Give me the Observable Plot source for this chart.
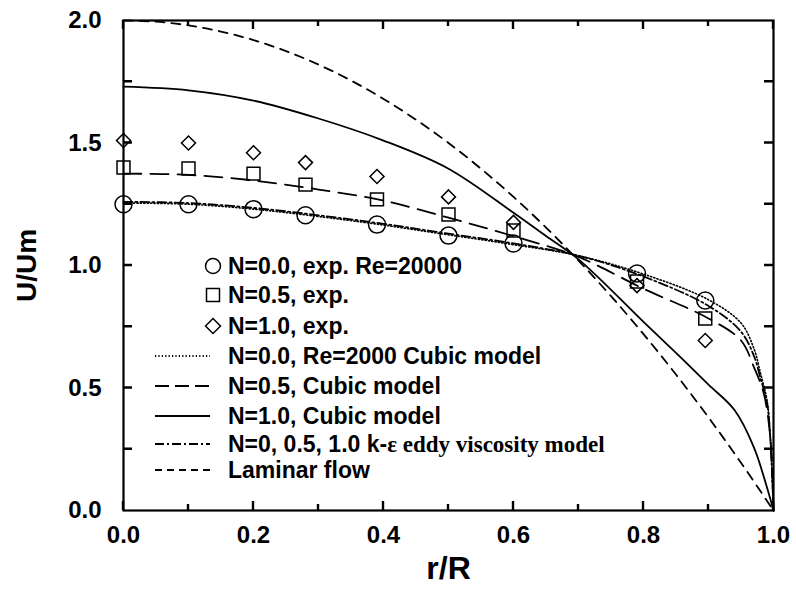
<!DOCTYPE html>
<html><head><meta charset="utf-8">
<script src="https://cdn.jsdelivr.net/npm/d3@7"></script>
<script src="https://cdn.jsdelivr.net/npm/@observablehq/plot@0.6"></script>
<style>
body{margin:0;background:#fff;}
#wrap{position:relative;width:796px;height:590px;background:#fff;}
#legend{position:absolute;left:0;top:0;width:0;height:0;overflow:visible;pointer-events:none;font-family:"Liberation Sans",Arial,sans-serif;font-size:23px;font-weight:bold;color:#000;}
.sw{position:absolute;left:150px;width:72px;height:28px;}
.lab{position:absolute;left:228px;height:28px;line-height:28px;white-space:nowrap;}
.serif{font-family:"Liberation Serif","Times New Roman",serif;font-size:23px;font-weight:bold;}
</style></head><body><div id="wrap"><div id="legend"></div></div>
<script>
// ---- experimental points ----
const rExp = [0, 0.1, 0.2, 0.28, 0.39, 0.5, 0.6, 0.79, 0.895];
const uExpN00 = [1.25, 1.25, 1.23, 1.205, 1.167, 1.122, 1.09, 0.967, 0.857];
const uExpN05 = [1.40, 1.396, 1.375, 1.33, 1.27, 1.208, 1.143, 0.935, 0.784];
const uExpN10 = [1.51, 1.50, 1.46, 1.42, 1.363, 1.28, 1.176, 0.918, 0.694];

// ---- model curves ----
const rLam = [0, 0.05, 0.1, 0.15, 0.2, 0.25, 0.3, 0.35, 0.4, 0.45, 0.5, 0.55, 0.6, 0.65, 0.7, 0.75, 0.8, 0.85, 0.9, 0.95, 1.0];
const uLam = [2.0, 1.995, 1.98, 1.955, 1.92, 1.875, 1.82, 1.755, 1.68, 1.595, 1.5, 1.395, 1.28, 1.155, 1.02, 0.875, 0.72, 0.555, 0.38, 0.195, 0];

const rN10 = [0, 0.1, 0.2, 0.3, 0.4, 0.5, 0.6, 0.65, 0.7, 0.8, 0.85, 0.9, 0.94, 0.97, 0.99, 1.0];
const uN10 = [1.73, 1.715, 1.673, 1.60, 1.51, 1.395, 1.215, 1.12, 1.025, 0.77, 0.643, 0.514, 0.41, 0.257, 0.094, 0];

const rN05 = [0, 0.1, 0.2, 0.3, 0.4, 0.5, 0.6, 0.7, 0.8, 0.9, 0.95, 0.97, 0.985, 0.995, 1.0];
const uN05 = [1.375, 1.37, 1.347, 1.31, 1.265, 1.195, 1.12, 1.035, 0.905, 0.784, 0.694, 0.584, 0.478, 0.3, 0];

const rWall = [0, 0.1, 0.2, 0.3, 0.4, 0.5, 0.6, 0.7, 0.8, 0.9, 0.95, 0.97, 0.98, 0.99, 0.995, 1.0];
const uN00 = [1.255, 1.25, 1.23, 1.2, 1.165, 1.125, 1.085, 1.04, 0.965, 0.86, 0.765, 0.66, 0.56, 0.45, 0.3, 0];
const uKE  = [1.26, 1.255, 1.235, 1.205, 1.17, 1.13, 1.09, 1.04, 0.955, 0.835, 0.73, 0.63, 0.54, 0.44, 0.3, 0];

// ---- ticks ----
const xTickLabels = [0, 0.2, 0.4, 0.6, 0.8, 1.0];
const xMinorTicks = [0.1, 0.3, 0.5, 0.7, 0.9];
const yTickLabels = [0, 0.5, 1.0, 1.5, 2.0];
const yAllTicks = [0.25, 0.5, 0.75, 1.0, 1.25, 1.5, 1.75];

// ---- legend ----
const legendLabels = [
  "N=0.0, exp. Re=20000",
  "N=0.5, exp.",
  "N=1.0, exp.",
  "N=0.0, Re=2000 Cubic model",
  "N=0.5, Cubic model",
  "N=1.0, Cubic model",
  "N=0, 0.5, 1.0 k-ε eddy viscosity model",
  "Laminar flow"
];

const zip = (xs, ys) => xs.map((x, i) => ({x, y: ys[i]}));

const W = 796, H = 590, mL = 123, mR = 23, mT = 20, mB = 80;
const major = 9, minor = 6;

const dashes = {
  dotted: "1.2,2.2",
  long: "18,9",
  solid: null,
  dashdot: "9,3,2,3",
  short: "9,7"
};

// custom mark: inward ticks on all four sides, placed through Plot's scales
function inwardTicks(index, scales, values, dims) {
  const {x, y} = scales;
  const L = dims.marginLeft, R = dims.width - dims.marginRight;
  const T = dims.marginTop, B = dims.height - dims.marginBottom;
  const p = d3.path();
  for (const v of xTickLabels) { const px = x(v); p.moveTo(px, B); p.lineTo(px, B - major); p.moveTo(px, T); p.lineTo(px, T + major); }
  for (const v of xMinorTicks) { const px = x(v); p.moveTo(px, B); p.lineTo(px, B - minor); p.moveTo(px, T); p.lineTo(px, T + minor); }
  for (const v of yAllTicks) { const py = y(v); p.moveTo(L, py); p.lineTo(L + major, py); p.moveTo(R, py); p.lineTo(R - major, py); }
  return d3.create("svg:path")
    .attr("d", p.toString())
    .attr("fill", "none").attr("stroke", "#000").attr("stroke-width", 2.4)
    .node();
}

const chart = Plot.plot({
  width: W, height: H,
  marginLeft: mL, marginRight: mR, marginTop: mT, marginBottom: mB,
  style: {fontFamily: "'Liberation Sans', Arial, sans-serif", fontSize: "24px", fontWeight: "bold", color: "#000", background: "#fff", overflow: "visible"},
  x: {domain: [0, 1], axis: null},
  y: {domain: [0, 2], axis: null},
  marks: [
    inwardTicks,
    // curves
    Plot.line(zip(rLam, uLam), {x: "x", y: "y", stroke: "#000", strokeWidth: 1.8, strokeDasharray: dashes.short, curve: "catmull-rom"}),
    Plot.line(zip(rN10, uN10), {x: "x", y: "y", stroke: "#000", strokeWidth: 1.8, curve: "catmull-rom"}),
    Plot.line(zip(rN05, uN05), {x: "x", y: "y", stroke: "#000", strokeWidth: 1.8, strokeDasharray: dashes.long, curve: "catmull-rom"}),
    Plot.line(zip(rWall, uKE), {x: "x", y: "y", stroke: "#000", strokeWidth: 1.8, strokeDasharray: dashes.dashdot, curve: "catmull-rom"}),
    Plot.line(zip(rWall, uN00), {x: "x", y: "y", stroke: "#000", strokeWidth: 1.6, strokeDasharray: dashes.dotted, curve: "catmull-rom"}),
    // experimental symbols
    Plot.dot(zip(rExp, uExpN00), {x: "x", y: "y", symbol: "circle", r: 8.5, stroke: "#000", strokeWidth: 1.5, fill: "none"}),
    Plot.dot(zip(rExp, uExpN05), {x: "x", y: "y", symbol: "square", r: 7.3, stroke: "#000", strokeWidth: 1.5, fill: "none"}),
    Plot.dot(zip(rExp, uExpN10), {x: "x", y: "y", symbol: "diamond2", r: 6.3, stroke: "#000", strokeWidth: 1.5, fill: "none"}),
    Plot.frame({stroke: "#000", strokeWidth: 2.2}),
    // tick labels
    Plot.axisX(xTickLabels, {anchor: "bottom", tickSize: 0, tickPadding: 15, label: null, tickFormat: d3.format(".1f"), fontSize: 24}),
    Plot.axisY(yTickLabels, {anchor: "left", tickSize: 0, tickPadding: 22, label: null, tickFormat: d3.format(".1f"), fontSize: 24}),
    // axis titles
    Plot.text(["r/R"], {frameAnchor: "bottom", dy: 58, lineAnchor: "middle", textAnchor: "middle", fontSize: 32, text: d => d}),
    Plot.text(["U/Um"], {frameAnchor: "left", dx: -96, rotate: -90, textAnchor: "middle", lineAnchor: "middle", fontSize: 28, text: d => d})
  ]
});
document.getElementById("wrap").prepend(chart);

// legend overlay
const rowsY = [266, 295, 326, 356, 386, 416, 444, 470];
const leg = document.getElementById("legend");
const svgNS = "http://www.w3.org/2000/svg";
legendLabels.forEach((lab, i) => {
  const yc = rowsY[i];
  const sv = document.createElementNS(svgNS, "svg");
  sv.setAttribute("class", "sw");
  sv.setAttribute("width", 72); sv.setAttribute("height", 28);
  sv.style.top = (yc - 14) + "px";
  const cx = 63, cy = 14;
  let el;
  if (i === 0) {
    el = document.createElementNS(svgNS, "circle");
    el.setAttribute("cx", cx); el.setAttribute("cy", cy); el.setAttribute("r", 7.5);
  } else if (i === 1) {
    el = document.createElementNS(svgNS, "rect");
    el.setAttribute("x", cx - 6.5); el.setAttribute("y", cy - 6.5); el.setAttribute("width", 13); el.setAttribute("height", 13);
  } else if (i === 2) {
    el = document.createElementNS(svgNS, "path");
    el.setAttribute("d", `M${cx - 7.5},${cy}L${cx},${cy - 7.5}L${cx + 7.5},${cy}L${cx},${cy + 7.5}Z`);
  } else {
    el = document.createElementNS(svgNS, "line");
    el.setAttribute("x1", 5); el.setAttribute("x2", 60); el.setAttribute("y1", cy); el.setAttribute("y2", cy);
    const d = [null, null, null, dashes.dotted, "14,6", dashes.solid, dashes.dashdot, "7,5"][i];
    if (d) el.setAttribute("stroke-dasharray", d);
  }
  el.setAttribute("fill", "none"); el.setAttribute("stroke", "#000");
  el.setAttribute("stroke-width", i < 3 ? 1.5 : 1.8);
  sv.appendChild(el);
  leg.appendChild(sv);
  const t = document.createElement("div");
  t.className = "lab";
  t.style.top = (yc - 14) + "px";
  if (i === 6) {
    const k = lab.indexOf("ε");
    t.appendChild(document.createTextNode(lab.slice(0, k)));
    const s = document.createElement("span");
    s.className = "serif";
    s.textContent = lab.slice(k);
    t.appendChild(s);
  } else {
    t.textContent = lab;
  }
  leg.appendChild(t);
});
</script>
</body></html>
